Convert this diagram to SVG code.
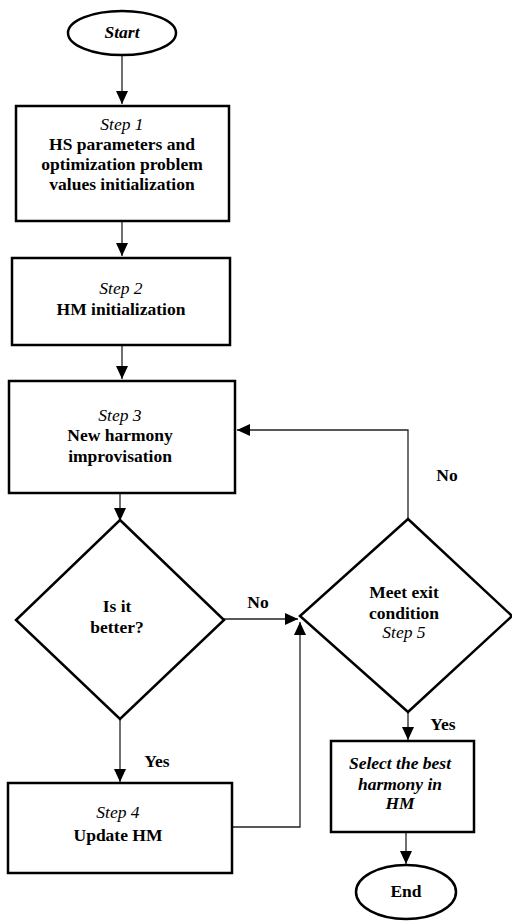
<svg xmlns="http://www.w3.org/2000/svg" width="512" height="922" viewBox="0 0 512 922">
<style>
.shape{fill:#fff;stroke:#000;stroke-width:2.5}
.conn{fill:none;stroke:#222;stroke-width:1.3}
text{font-family:"Liberation Serif","Times New Roman",serif;font-size:17.5px;font-weight:bold;text-anchor:middle;fill:#000}
.it{font-style:italic;font-weight:normal}
.bi{font-style:italic;font-weight:bold}
</style>
<defs>
<marker id="arr" markerUnits="userSpaceOnUse" markerWidth="14" markerHeight="12" refX="13" refY="6" orient="auto">
<path d="M0,0 L13,6 L0,12 Z" fill="#000"/>
</marker>
</defs>
<rect width="512" height="922" fill="#fff"/>
<g id="connectors">
<line class="conn" x1="122" y1="55" x2="122" y2="104" marker-end="url(#arr)"/>
<line class="conn" x1="122" y1="221" x2="122" y2="256" marker-end="url(#arr)"/>
<line class="conn" x1="122" y1="345" x2="122" y2="379" marker-end="url(#arr)"/>
<line class="conn" x1="120" y1="493" x2="120" y2="521" marker-end="url(#arr)"/>
<line class="conn" x1="120" y1="719" x2="120" y2="782" marker-end="url(#arr)"/>
<polyline class="conn" points="232,827 300,827 300,622" marker-end="url(#arr)"/>
<line class="conn" x1="224" y1="619" x2="298" y2="619" marker-end="url(#arr)"/>
<polyline class="conn" points="408,519 408,430 237,430" marker-end="url(#arr)"/>
<line class="conn" x1="408" y1="712" x2="408" y2="740" marker-end="url(#arr)"/>
<line class="conn" x1="406" y1="832" x2="406" y2="864" marker-end="url(#arr)"/>
<text x="258" y="608">No</text>
<text x="447" y="481">No</text>
<text x="157" y="767">Yes</text>
<text x="443" y="730">Yes</text>
</g>
<g id="start">
<ellipse class="shape" cx="122" cy="33" rx="54" ry="22" stroke-width="2"/>
<text class="bi" x="122" y="38">Start</text>
</g>
<g id="step1">
<rect class="shape" x="16" y="106" width="213" height="115"/>
<text class="it" x="122" y="130">Step 1</text>
<text x="122" y="150">HS parameters and</text>
<text x="122" y="170">optimization problem</text>
<text x="122" y="190">values initialization</text>
</g>
<g id="step2">
<rect class="shape" x="12" y="258" width="218" height="87"/>
<text class="it" x="121" y="294">Step 2</text>
<text x="121" y="315">HM initialization</text>
</g>
<g id="step3">
<rect class="shape" x="9" y="381" width="226" height="112"/>
<text class="it" x="120" y="421">Step 3</text>
<text x="120" y="441">New harmony</text>
<text x="120" y="462">improvisation</text>
</g>
<g id="decision1">
<polygon class="shape" points="120,520 224,620 120,719 16,620"/>
<text x="117" y="612">Is it</text>
<text x="117" y="633">better?</text>
</g>
<g id="step4">
<rect class="shape" x="8" y="783" width="224" height="90"/>
<text class="it" x="118" y="818">Step 4</text>
<text x="118" y="841">Update HM</text>
</g>
<g id="decision2">
<polygon class="shape" points="408,519 512,616 408,712 300,616"/>
<text x="404" y="598">Meet exit</text>
<text x="404" y="619">condition</text>
<text class="it" x="404" y="638">Step 5</text>
</g>
<g id="select">
<rect class="shape" x="331" y="741" width="143" height="91"/>
<text class="bi" x="400" y="769">Select the best</text>
<text class="bi" x="400" y="790">harmony in</text>
<text class="bi" x="400" y="809">HM</text>
</g>
<g id="end">
<ellipse class="shape" cx="406" cy="892" rx="50" ry="27" stroke-width="2"/>
<text x="406" y="897">End</text>
</g>
</svg>
